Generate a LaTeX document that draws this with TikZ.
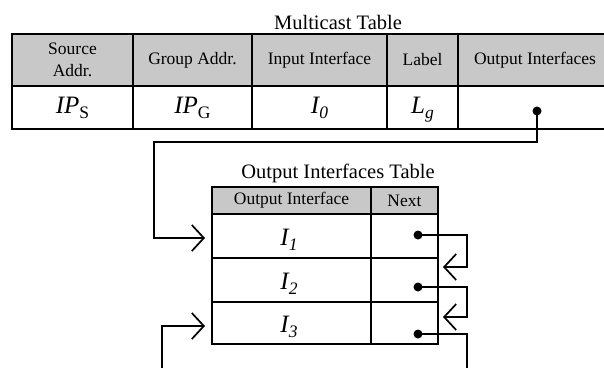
\documentclass[tikz,border=0pt]{standalone}
\usepackage{fontspec}
\setmainfont{Liberation Serif}
\usetikzlibrary{arrows.meta}
\definecolor{hdrgray}{RGB}{200,200,200}
\newcommand\subup[1]{\raisebox{-5.5pt}{\fontsize{17.5}{17.5}\selectfont\upshape #1}}
\newcommand\subit[1]{\raisebox{-5.5pt}{\fontsize{17.5}{17.5}\selectfont\itshape #1}}
\begin{document}
\begin{tikzpicture}[x=1pt,y=-1pt,
  tbl/.style={line width=2.4pt},
  htext/.style={font=\fontsize{17.5}{22}\selectfont, align=center, inner sep=0pt},
  ttl/.style={font=\fontsize{20.5}{24}\selectfont, inner sep=0pt},
  mtext/.style={font=\fontsize{25}{25}\selectfont\itshape, inner sep=0pt, anchor=base},
  conn/.style={line width=1.7pt},
  arr/.style={conn, -{Straight Barb[length=12pt,width=26pt,line width=1.7pt]}},
  dotmark/.style={circle, fill=black, inner sep=0pt, minimum size=9pt}
]
\useasboundingbox (0,0) rectangle (604,368);
% ---- Multicast table
\fill[hdrgray] (12,34) rectangle (612,86);
\draw[tbl] (12,34) rectangle (612,129);
\draw[tbl] (12,86) -- (612,86);
\foreach \x in {133,252,387,458} \draw[tbl] (\x,34) -- (\x,129);
\node[ttl] (mtitle) at (338,22) {Multicast Table};
\node[htext] (h1) at (72.5,60) {Source\\Addr.};
\node[htext] (h2) at (192.5,60) {Group Addr.};
\node[htext] (h3) at (319.5,60) {Input Interface};
\node[htext] (h4) at (422.5,60) {Label};
\node[htext] (h5) at (535,60) {Output Interfaces};
\node[mtext] (d1) at (72.5,113) {IP\subup{S}};
\node[mtext] (d2) at (192.5,113) {IP\subup{G}};
\node[mtext] (d3) at (319.5,113) {I\subit{0}};
\node[mtext] (d4) at (422.5,113) {L\subit{g}};
% ---- Output interfaces table
\fill[hdrgray] (212,187) rectangle (438,214);
\draw[tbl] (212,187) rectangle (438,344);
\foreach \y in {214,258,302} \draw[tbl] (212,\y) -- (438,\y);
\draw[tbl] (371,187) -- (371,344);
\node[ttl] (otitle) at (338,173) {Output Interfaces Table};
\node[htext] (oh1) at (291.5,200.5) {Output Interface};
\node[htext] (oh2) at (404.5,200.5) {Next};
\node[mtext] (r1) at (289,245) {I\subit{1}};
\node[mtext] (r2) at (289,289) {I\subit{2}};
\node[mtext] (r3) at (289,332) {I\subit{3}};
% ---- pointer origins and targets
\coordinate (p0) at (537,111);
\coordinate (p1) at (418,235);
\coordinate (p2) at (418,287);
\coordinate (p3) at (418,334);
\coordinate (t1) at (205,238);
\coordinate (t3) at (205,326);
\coordinate (t2r) at (443,267);
\coordinate (t3r) at (443,317);
\coordinate (bl) at (162,368);
\coordinate (br) at (467,368);
% ---- connectors
\draw[arr] (p0) -- (537,142) -- (154,142) -- (154,238) -- (t1);
\draw[arr] (bl) -- (162,326) -- (t3);
\draw[arr] (p1) -- (467,235) -- (467,267) -- (t2r);
\draw[arr] (p2) -- (467,287) -- (467,317) -- (t3r);
\draw[conn] (p3) -- (467,334) -- (br);
% ---- dots
\foreach \p in {p0,p1,p2,p3} \node[dotmark] at (\p) {};
\end{tikzpicture}
\end{document}
